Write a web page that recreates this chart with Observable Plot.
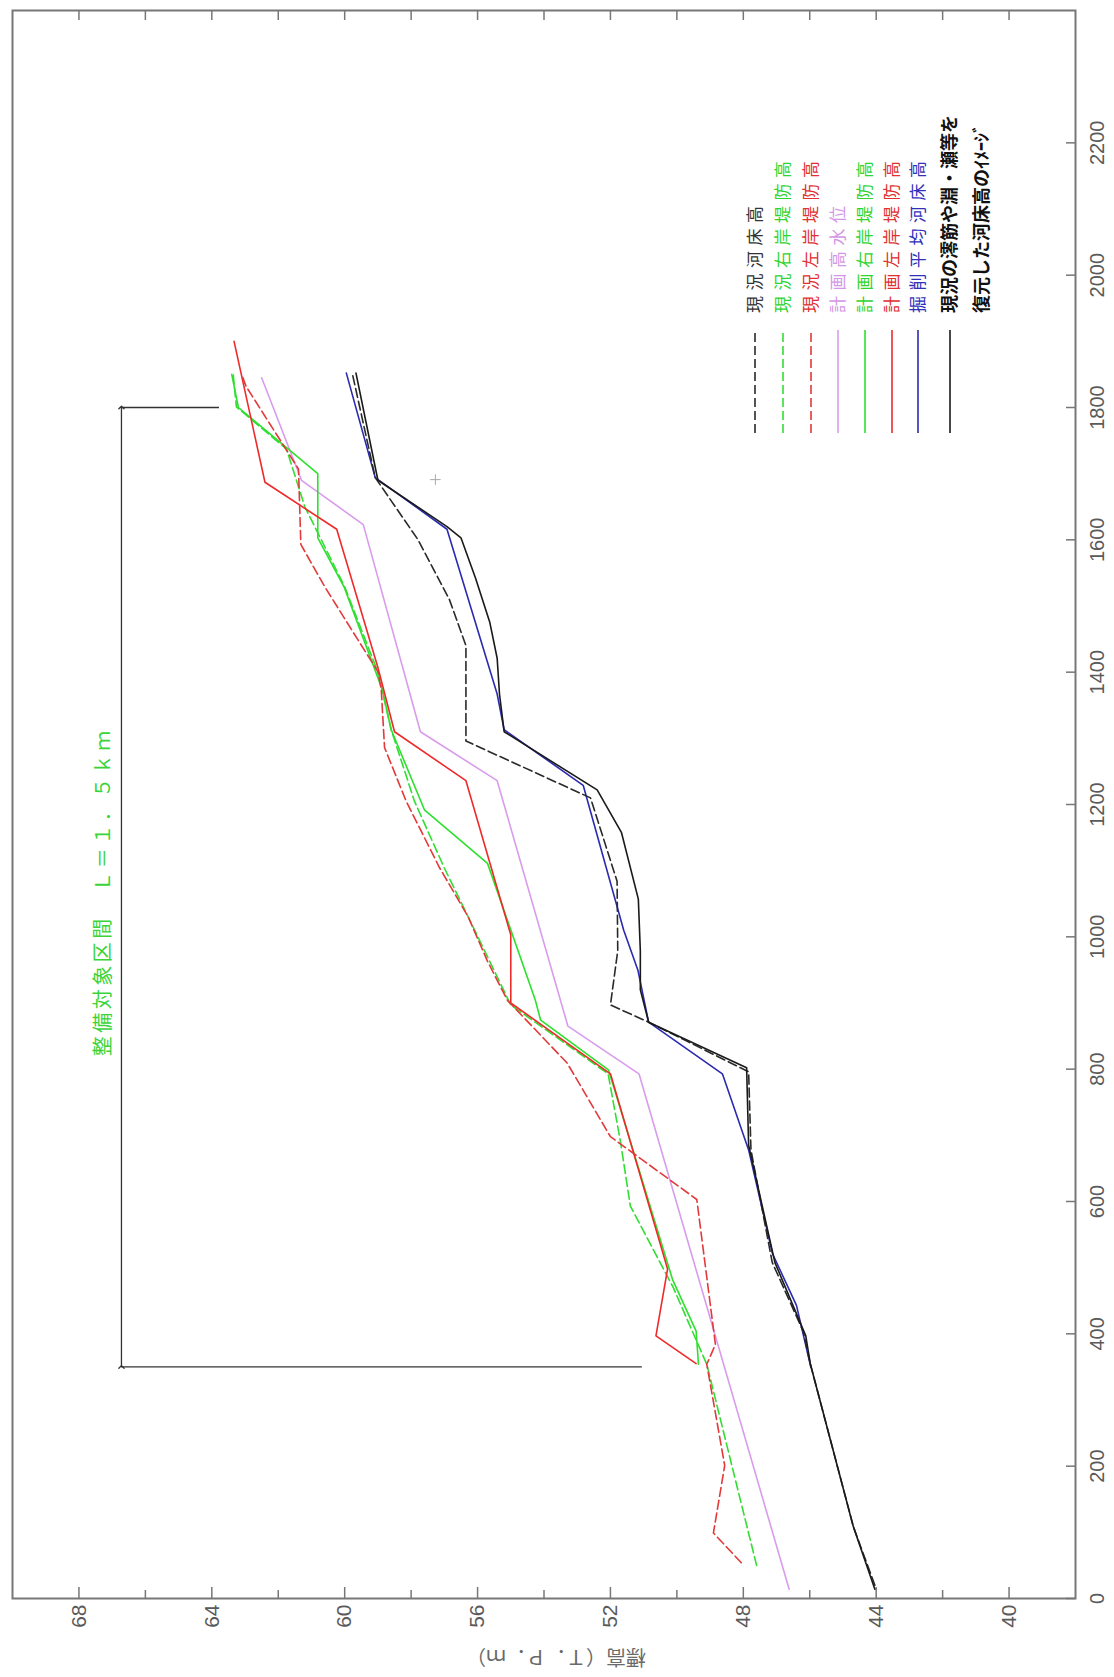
<!DOCTYPE html>
<html><head><meta charset="utf-8">
<script src="https://cdn.jsdelivr.net/npm/d3@7"></script>
<script src="https://cdn.jsdelivr.net/npm/@observablehq/plot@0.6"></script>
<style>
html,body{margin:0;padding:0;background:#fff;}
#wrap{position:relative;width:1114px;height:1677px;overflow:hidden;background:#fff;}
#wrap svg{position:absolute;left:0;top:0;transform-origin:0 0;transform:translate(0px,1677px) rotate(-90deg);max-width:none !important;width:1677px !important;height:1114px !important;}
</style></head><body><div id="wrap"></div>
<script>
// ---- data: [distance (m), elevation (T.P.m)] ----
const genkyoKashoko = [[20,44.04],[109,44.69],[354,45.98],[404,46.2],[508,47.13],[678,47.77],[796,47.84],[871,50.85],[897,52.0],[979,51.78],[1084,51.8],[1210,52.6],[1296,56.35],[1440,56.35],[1510,56.85],[1600,57.79],[1694,59.08],[1849,59.76]];
const genkyoUganTeibo = [[50,47.6],[354,49.1],[469,50.1],[593,51.4],[691,51.7],[793,52.07],[897,55.0],[1030,56.28],[1104,57.0],[1205,57.9],[1313,58.6],[1400,59.0],[1529,60.0],[1650,61.2],[1737,61.75],[1801,63.26],[1852,63.36]];
const genkyoSaganTeibo = [[54,48.06],[99,48.9],[201,48.56],[354,49.1],[384,48.84],[603,49.4],[698,52.0],[809,53.3],[904,55.1],[963,55.7],[1030,56.28],[1104,57.14],[1205,58.15],[1286,58.8],[1374,58.9],[1401,59.0],[1448,59.59],[1529,60.6],[1593,61.32],[1707,61.39],[1832,62.97],[1850,63.1]];
const keikakuKosuii = [[14,46.62],[793,51.14],[865,53.28],[1236,55.41],[1310,57.72],[1623,59.44],[1690,61.3],[1845,62.5]];
const keikakuUganTeibo = [[354,49.35],[404,49.42],[482,50.13],[799,52.06],[874,54.1],[904,54.26],[1111,55.7],[1192,57.6],[1313,58.6],[1374,58.87],[1529,60.02],[1603,60.81],[1700,60.81],[1800,63.2],[1850,63.4]];
const keikakuSaganTeibo = [[355,49.42],[397,50.63],[498,50.28],[793,52.0],[900,55.0],[1003,55.0],[1236,56.35],[1310,58.5],[1407,59.0],[1616,60.24],[1687,62.4],[1900,63.33]];
const kussakuHeikin = [[350,45.97],[443,46.4],[521,47.12],[678,47.84],[793,48.63],[871,50.85],[949,51.17],[1010,51.6],[1229,52.82],[1313,55.2],[1367,55.41],[1616,56.92],[1694,59.08],[1852,59.95]];
const fukugenKashoko = [[14,44.04],[109,44.69],[354,45.98],[397,46.12],[508,47.05],[685,47.84],[802,47.9],[871,50.85],[920,51.1],[979,51.1],[1057,51.16],[1158,51.67],[1222,52.4],[1310,55.2],[1367,55.34],[1421,55.41],[1475,55.63],[1542,56.06],[1603,56.5],[1620,56.92],[1690,59.0],[1852,59.66]];

const seriesNames = ["現況河床高","現況右岸堤防高","現況左岸堤防高","計画高水位","計画右岸堤防高","計画左岸堤防高","掘削平均河床高","現況の澪筋や淵・瀬等を\n復元した河床高のｲﾒｰｼﾞ"];
const seriesData = [genkyoKashoko, genkyoUganTeibo, genkyoSaganTeibo, keikakuKosuii, keikakuUganTeibo, keikakuSaganTeibo, kussakuHeikin, fukugenKashoko];
const seriesColors = ["#2a2a2a","#33dd33","#e23a3a","#d99cec","#2ee02e","#ee2a2a","#2b2bb0","#1a1a1a"];
const seriesDashed = [true,true,true,false,false,false,false,false];
const textColors = ["#333","#2fd42f","#e03030","#d497e6","#2fd42f","#e03030","#3030b8","#111"];

const distTicks = [0,200,400,600,800,1000,1200,1400,1600,1800,2000,2200];
const elevLabelTicks = [40,44,48,52,56,60,64,68];
const elevMinorTicks = [42,46,50,54,58,62,66];

const spanEnds = [350, 1800];          // 整備対象区間 start / end (m)
const spanArrowElev = 66.72;
const spanLineBottoms = [51.04, 63.77];
const spanLabel = [{d: 1068, e: 67.25, text: "整備対象区間　Ｌ＝１．５ｋｍ"}];
const strayMark = [{d: 1691, e: 57.27}];
const yTitle = "標高（Ｔ．Ｐ．ｍ）";

// ---- layout ----
const W = 1677, H = 1114;
const mL = 78, mR = 11, mT = 12, mB = 39;
const innerW = W - mL - mR, innerH = H - mT - mB;
const axisGray = "#777";
const labelGray = "#5a5a5a";

const rows = seriesData.map(a => a.map(([d, e]) => ({d, e})));

const lineMarks = [3,4,1,5,2,6,0,7].map(i =>
  Plot.line(rows[i], {x: "d", y: "e", stroke: seriesColors[i], strokeWidth: 1.6,
    strokeDasharray: seriesDashed[i] ? "9,4" : null, curve: "linear"}));

const plot = Plot.plot({
  width: W, height: H,
  marginLeft: mL, marginRight: mR, marginTop: mT, marginBottom: mB,
  style: {background: "#fff", overflow: "visible"},
  x: {domain: [0, 2400]},
  y: {domain: [38, 70]},
  marks: [
    Plot.frame({stroke: axisGray, strokeWidth: 2}),
    Plot.tickY(elevLabelTicks, {y: d => d, stroke: axisGray, strokeWidth: 1.5, insetRight: innerW - 12}),
    Plot.tickY(elevMinorTicks, {y: d => d, stroke: axisGray, strokeWidth: 1.5, insetRight: innerW - 9}),
    Plot.tickY(elevLabelTicks.concat(elevMinorTicks), {y: d => d, stroke: axisGray, strokeWidth: 1.5, insetLeft: innerW - 9}),
    Plot.tickX(distTicks, {x: d => d, stroke: axisGray, strokeWidth: 1.5, insetTop: innerH - 9}),
    Plot.axisY({ticks: elevLabelTicks, tickSize: 0, tickPadding: 6, fontSize: 21,
      fontFamily: "Liberation Sans, Arial, sans-serif", tickFormat: d => String(d), label: null, color: labelGray}),
    Plot.axisX({ticks: distTicks, tickSize: 0, tickPadding: 14, fontSize: 20,
      fontFamily: "Liberation Sans Narrow, Liberation Sans, sans-serif", tickFormat: d => String(d), label: null, color: labelGray}),
    Plot.text([yTitle], {frameAnchor: "left", textAnchor: "middle", lineAnchor: "middle", rotate: -90, dx: -58, dy: 12, fontSize: 20,
      fontFamily: "Noto Sans CJK JP, sans-serif", fill: "#6a6a6a"}),
    // 整備対象区間 annotation
    Plot.ruleX([0, 1], {x: i => spanEnds[i], y1: spanArrowElev, y2: i => spanLineBottoms[i], stroke: "#333", strokeWidth: 1.3}),
    Plot.link([0], {x1: () => spanEnds[0], x2: () => spanEnds[1], y1: spanArrowElev, y2: spanArrowElev,
      stroke: "#333", strokeWidth: 1.3, markerStart: "arrow", markerEnd: "arrow"}),
    Plot.text(spanLabel, {x: "d", y: "e", text: "text", fill: "#3ad43a", fontSize: 20,
      fontFamily: "Noto Sans CJK JP, sans-serif"}),
    Plot.dot(strayMark, {x: "d", y: "e", symbol: "plus", r: 3.5, stroke: "#aaa", strokeWidth: 1}),
    ...lineMarks
  ]
});

const svg = d3.select(plot);
// wider character pitch for the section label (CAD-style spacing)
svg.selectAll("text").filter(function() { return this.textContent === spanLabel[0].text; })
  .attr("letter-spacing", 3.5);

// legend (inside the plot svg, lower right of the chart before rotation)
const lg = svg.append("g").attr("class", "legend").attr("text-anchor", "start");
const legendY = [755, 783, 811, 838, 865, 892, 918, 950];
seriesNames.forEach((name, i) => {
  const y = legendY[i];
  lg.append("line").attr("x1", 1244).attr("x2", 1347).attr("y1", y).attr("y2", y)
    .attr("stroke", seriesColors[i]).attr("stroke-width", 1.6)
    .attr("stroke-dasharray", seriesDashed[i] ? "9,4" : null);
  const lines = name.split("\n");
  const bold = i === 7;
  lines.forEach((t, k) => {
    lg.append("text").attr("x", 1364).attr("y", y + k * 32)
      .attr("dy", "0.36em")
      .attr("text-anchor", "start")
      .attr("fill", textColors[i])
      .attr("font-family", "Noto Sans CJK JP, sans-serif")
      .attr("font-size", bold ? 18 : 17)
      .attr("font-weight", bold ? 700 : 400)
      .attr("letter-spacing", bold ? 0 : 5.5)
      .text(t);
  });
});

document.getElementById("wrap").appendChild(plot);
</script></body></html>
